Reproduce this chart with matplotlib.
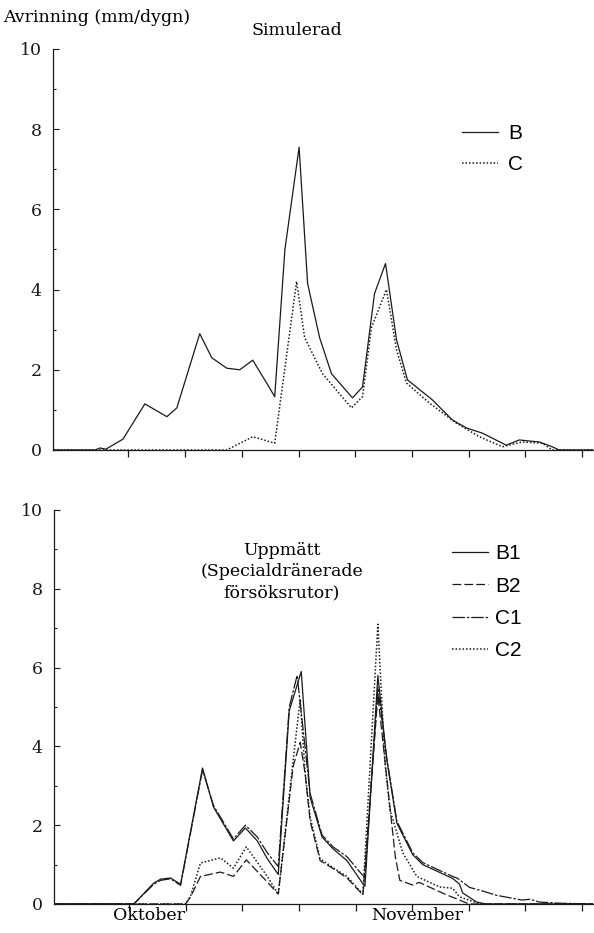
import matplotlib.pyplot as plt
from matplotlib.ticker import MultipleLocator

# Avrinning (mm/dygn), x = dagar (ticks every 5 days)
sim_b_day = [-1.6, 2.05, 2.5, 3.0, 3.37, 4.52, 6.45, 8.39, 9.27, 11.29, 12.35, 13.67, 14.82,
             15.96, 17.19, 17.9, 18.8, 20.05, 20.8, 21.86, 22.91, 24.76, 25.64, 26.7, 27.67,
             28.64, 29.6, 31.8, 33.56, 34.8, 36.21, 38.32, 39.46, 41.22, 42.37, 42.98, 46]
sim_b_val = [0, 0, 0.05, 0.02, 0.08, 0.27, 1.15, 0.83, 1.05, 2.9, 2.3, 2.04, 2.0,
             2.24, 1.67, 1.33, 5.0, 7.55, 4.15, 2.8, 1.9, 1.3, 1.57, 3.9, 4.65,
             2.75, 1.75, 1.25, 0.75, 0.55, 0.42, 0.12, 0.25, 0.2, 0.08, 0, 0]

sim_c_day = [-1.6, 13.67, 15.96, 17.9, 19.83, 20.54, 22.12, 24.67, 25.64, 26.43, 27.75,
             28.64, 29.52, 31.54, 33.92, 35.94, 37.97, 39.73, 41.49, 42.37, 46]
sim_c_val = [0, 0, 0.33, 0.17, 4.2, 2.8, 1.9, 1.05, 1.33, 3.05, 4.0,
             2.5, 1.67, 1.17, 0.67, 0.33, 0.08, 0.2, 0.17, 0, 0]

b1_day = [-1.6, 5.4, 7.16, 7.77, 8.65, 9.53, 11.47, 12.44, 14.2, 15.26, 16.31, 17.19, 18.16,
          19.13, 20.19, 20.98, 22.03, 23.0, 24.23, 25.55, 25.82, 26.96, 27.75, 28.64, 30.04,
          30.92, 33.56, 34.18, 34.45, 35.68, 36.5, 46]
b1_val = [0, 0, 0.53, 0.63, 0.66, 0.5, 3.45, 2.46, 1.6, 1.93, 1.6, 1.15, 0.75,
          4.9, 5.9, 2.7, 1.7, 1.4, 1.1, 0.55, 0.45, 5.8, 3.65, 2.05, 1.25,
          1.0, 0.65, 0.5, 0.28, 0.05, 0, 0]

b2_day = [-1.6, 9.97, 10.41, 11.29, 13.05, 14.2, 15.34, 17.19, 18.16, 19.48, 20.1, 20.54,
          20.98, 21.86, 23.0, 24.23, 25.64, 26.96, 27.75, 28.5, 28.9, 30.04, 30.6, 33.04,
          34.18, 35.0, 46]
b2_val = [0, 0, 0.18, 0.7, 0.81, 0.7, 1.12, 0.56, 0.25, 3.5, 4.1, 3.3,
          2.1, 1.1, 0.9, 0.66, 0.23, 5.3, 3.2, 1.2, 0.6, 0.48, 0.55, 0.23,
          0.1, 0, 0]

c1_day = [-1.6, 5.4, 7.16, 7.77, 8.65, 9.53, 11.47, 12.44, 14.2, 15.26, 16.31, 17.19, 18.16,
          19.13, 19.83, 20.98, 22.03, 23.0, 24.23, 25.55, 25.82, 26.96, 27.75, 28.64, 30.04,
          30.92, 33.56, 34.01, 35.06, 36.2, 37.44, 39.7, 40.4, 41.2, 43.0, 46]
c1_val = [0, 0, 0.5, 0.6, 0.64, 0.47, 3.4, 2.5, 1.65, 2.0, 1.7, 1.3, 0.95,
          5.0, 5.8, 2.8, 1.75, 1.45, 1.2, 0.75, 0.7, 5.5, 3.7, 2.1, 1.3,
          1.05, 0.7, 0.65, 0.42, 0.33, 0.22, 0.1, 0.12, 0.05, 0.02, 0]

c2_day = [-1.6, 9.97, 10.41, 11.29, 13.05, 14.2, 15.34, 17.19, 18.16, 19.48, 20.1, 20.54,
          20.98, 21.86, 23.0, 24.23, 25.64, 26.96, 27.58, 28.02, 29.16, 30.4, 32.42, 33.56,
          34.18, 35.68, 36.2, 46]
c2_val = [0, 0, 0.2, 1.04, 1.17, 0.91, 1.45, 0.7, 0.25, 3.65, 5.2, 3.3,
          2.2, 1.15, 0.92, 0.7, 0.25, 7.1, 3.6, 2.4, 1.3, 0.7, 0.43, 0.4,
          0.18, 0.03, 0, 0]

day_ticks = [5, 10, 15, 20, 25, 30, 35, 40, 45]
month_pos = [6.7, 30.4]
month_labels = ["Oktober", "November"]

serif = "DejaVu Serif"
sans = "Liberation Sans"
ink = "#1a1a1a"
lw = 0.9

fig = plt.figure(figsize=(5.94, 9.33), dpi=100)
ax1 = fig.add_axes([0.0892, 0.5177, 0.9098, 0.4298])
ax2 = fig.add_axes([0.0909, 0.0311, 0.9081, 0.4223])

for ax in (ax1, ax2):
    ax.set_xlim(-1.65, 46)
    ax.set_ylim(0, 10)
    ax.spines["top"].set_visible(False)
    ax.spines["right"].set_visible(False)
    for s in ("left", "bottom"):
        ax.spines[s].set_linewidth(0.9)
        ax.spines[s].set_color(ink)
    ax.set_yticks([0, 2, 4, 6, 8, 10])
    ax.yaxis.set_minor_locator(MultipleLocator(1))
    ax.set_xticks(day_ticks)
    ax.set_xticklabels([])
    ax.tick_params(axis="y", which="major", direction="in", length=4, width=0.8,
                   labelsize=12.5, pad=8, colors=ink)
    ax.tick_params(axis="y", which="minor", direction="in", length=2, width=0.8, colors=ink)
    ax.tick_params(axis="x", which="major", direction="out", length=5, width=0.9, colors=ink)
    for lab in ax.get_yticklabels():
        lab.set_family(serif)

# top panel: simulerad
ax1.plot(sim_b_day, sim_b_val, color=ink, lw=lw, ls="-", label="B")
ax1.plot(sim_c_day, sim_c_val, color=ink, lw=1.1, ls=(0, (1, 1.3)), label="C")
ax1.text(0.451, 1.047, "Simulerad", transform=ax1.transAxes, ha="center", va="center",
         family=serif, fontsize=12.5)
ax1.legend(loc="upper left", bbox_to_anchor=(0.756, 0.813), frameon=False,
           prop={"family": sans, "size": 15}, handlelength=1.75, handletextpad=0.5,
           labelspacing=0.59, borderpad=0, borderaxespad=0)

# bottom panel: uppmatt
ax2.plot(b1_day, b1_val, color=ink, lw=lw, ls="-", label="B1")
ax2.plot(b2_day, b2_val, color=ink, lw=lw, ls=(0, (7, 2.5)), label="B2")
ax2.plot(c1_day, c1_val, color=ink, lw=lw, ls=(0, (10, 1.5, 2, 1.5)), label="C1")
ax2.plot(c2_day, c2_val, color=ink, lw=1.1, ls=(0, (1, 1.3)), label="C2")
ax2.text(0.422, 0.843, "Uppmätt\n(Specialdränerade\nförsöksrutor)", transform=ax2.transAxes,
         ha="center", va="center", multialignment="center", family=serif, fontsize=12.5,
         linespacing=1.3)
ax2.legend(loc="upper left", bbox_to_anchor=(0.737, 0.913), frameon=False,
           prop={"family": sans, "size": 15}, handlelength=1.75, handletextpad=0.35,
           labelspacing=0.64, borderpad=0, borderaxespad=0)
ax2.set_xticks(month_pos, month_labels, minor=True)
ax2.tick_params(axis="x", which="minor", length=0, pad=2, labelsize=12.5)
for lab in ax2.get_xticklabels(minor=True):
    lab.set_family(serif)

fig.text(0.005, 1 - 18 / 933, "Avrinning (mm/dygn)", ha="left", va="center",
         family=serif, fontsize=12.5)

fig.savefig("out.png", dpi=100)
